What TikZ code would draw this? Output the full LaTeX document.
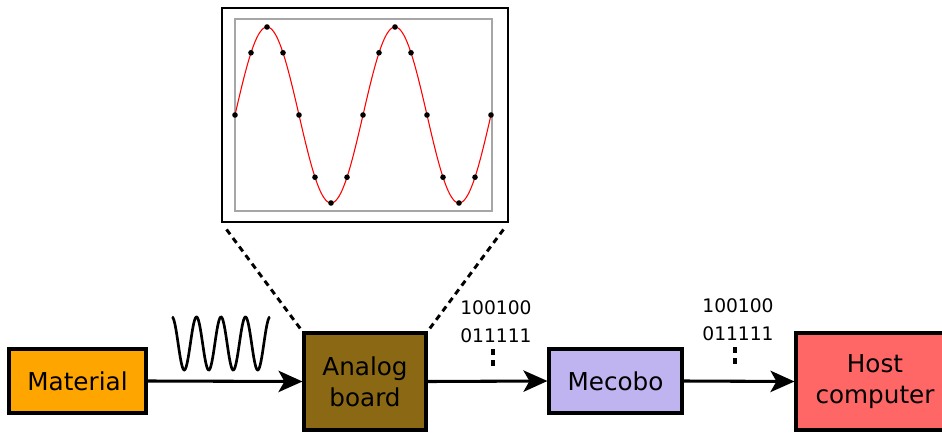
\documentclass[tikz,border=0pt]{standalone}
\usepackage{fontspec}
\setmainfont{DejaVu Sans}
\usetikzlibrary{arrows.meta}
\definecolor{material}{RGB}{255,165,0}
\definecolor{analog}{RGB}{139,105,20}
\definecolor{mecobo}{RGB}{191,179,240}
\definecolor{host}{RGB}{255,102,102}
\begin{document}
\begin{tikzpicture}[x=0.75pt,y=-0.75pt,
  block/.style={draw=black,line width=2.3pt,inner sep=0pt,align=center,
    font=\fontsize{18.5}{23}\selectfont},
  link/.style={line width=2.3pt,-{Stealth[length=18pt,width=16pt,inset=4.5pt]}},
  bits/.style={font=\fontsize{14}{16}\selectfont,inner sep=0pt},
  zoomline/.style={line width=2.2pt,dash pattern=on 4.5pt off 3.5pt},
  vdots/.style={line width=2.6pt,dash pattern=on 4.5pt off 4pt}]
\useasboundingbox (0,0) rectangle (942,432);
\clip (0,0) rectangle (942,432);
\fill[white] (0,0) rectangle (942,432);

% blocks
\node[block,fill=material,minimum width=137*0.75pt,minimum height=64*0.75pt] (mat) at (77.5,381) {Material};
\node[block,fill=analog,minimum width=122*0.75pt,minimum height=97*0.75pt] (ana) at (365,381.5) {Analog\\board};
\node[block,fill=mecobo,minimum width=133*0.75pt,minimum height=64*0.75pt] (mec) at (615.5,381) {Mecobo};
\node[block,fill=host,minimum width=158*0.75pt,minimum height=97*0.75pt] (host) at (875,381.5) {};
\node[font=\fontsize{18.5}{23}\selectfont,align=center] (hosttxt) at (875,381.5) {Host\\computer};

% connectors
\draw[link] (mat.east) -- (ana.west);
\draw[link] (ana.east) -- (mec.west);
\draw[link] (mec.east) -- (host.west);

% input signal
\draw[line width=2pt,domain=0:4,samples=160,smooth]
  plot ({172+\x*24.5},{343.5-26.5*cos(\x*360)});

% bit streams
\node[bits] (b1a) at (496,308) {100100};
\node[bits] (b1b) at (496,336) {011111};
\coordinate (d1a) at (493,349);
\coordinate (d1b) at (493,368);
\draw[vdots] (d1a) -- (d1b);
\node[bits] (b2a) at (738,306) {100100};
\node[bits] (b2b) at (738,334) {011111};
\coordinate (d2a) at (735,347);
\coordinate (d2b) at (735,366);
\draw[vdots] (d2a) -- (d2b);

% sampled signal plot
\node[draw=black,line width=2.2pt,minimum width=286*0.75pt,minimum height=214*0.75pt,inner sep=0pt] (plotframe) at (365,115) {};
\draw[black!35,line width=0.9pt] (235,19) rectangle (492,211);
\draw[red,line width=0.8pt,domain=0:2,samples=200,smooth]
  plot ({235+\x*128},{115-88*sin(\x*360)});
\foreach \k in {0,...,16}
  \fill ({235+\k*16},{115-88*sin(\k*45)}) circle (2.8);

% zoom lines
\draw[zoomline] (plotframe.south west) ++(6,6) -- (ana.north west);
\draw[zoomline] (plotframe.south east) ++(-6,6) -- (ana.north east);
\end{tikzpicture}
\end{document}
